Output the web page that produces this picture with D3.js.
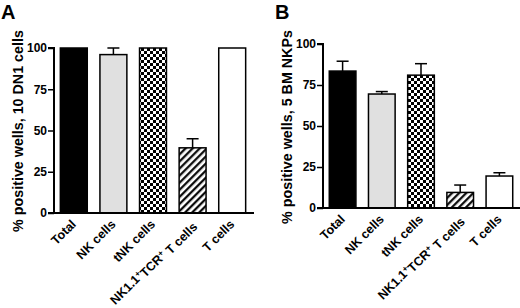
<!DOCTYPE html>
<html><head><meta charset="utf-8">
<script src="https://cdn.jsdelivr.net/npm/d3@7"></script>
<style>body{margin:0;background:#fff}svg{display:block}text{font-family:"Liberation Sans",Arial,sans-serif;font-weight:bold}</style>
</head><body><svg id="c" width="520" height="308"></svg>
<script>
const categories = ["Total","NK cells","tNK cells","NK1.1+TCR+ T cells","T cells"];
const valuesA = [100, 96, 100, 39.5, 100];
const errorsA = [0, 4, 0, 5.5, 0];
const valuesB = [83.5, 69.5, 81, 9.5, 19.5];
const errorsB = [6, 1.5, 7, 4.5, 2];
const yTicks = [0, 25, 50, 75, 100];
const fills = ["#000", "#e0e0e0", "url(#checker)", "url(#hatch)", "#fff"];

const svg = d3.select("#c");
const defs = svg.append("defs");
const ck = defs.append("pattern").attr("id","checker").attr("patternUnits","userSpaceOnUse").attr("width",6).attr("height",6);
ck.append("rect").attr("width",6).attr("height",6).attr("fill","#000");
ck.append("rect").attr("width",3).attr("height",3).attr("fill","#fff");
ck.append("rect").attr("x",3).attr("y",3).attr("width",3).attr("height",3).attr("fill","#fff");
const ht = defs.append("pattern").attr("id","hatch").attr("patternUnits","userSpaceOnUse").attr("width",5).attr("height",5).attr("patternTransform","rotate(45)");
ht.append("rect").attr("width",5).attr("height",5).attr("fill","#fff");
ht.append("line").attr("x1",1.2).attr("x2",1.2).attr("y1",0).attr("y2",5).attr("stroke","#000").attr("stroke-width",2.2);

function panel(opt){
  const g = svg.append("g");
  const x = d3.scaleBand().domain(categories).range([opt.x0, opt.x1]).paddingInner(0.32).paddingOuter(0.16);
  const y = d3.scaleLinear().domain([0,100]).range([opt.y0, opt.y1]);
  g.selectAll("rect.bar").data(categories).join("rect").attr("class","bar")
    .attr("x", d=>x(d)).attr("width", x.bandwidth())
    .attr("y", (d,i)=>y(opt.values[i])).attr("height",(d,i)=>y(0)-y(opt.values[i]))
    .attr("fill",(d,i)=>fills[i]).attr("stroke","#000").attr("stroke-width",1.5);
  categories.forEach((d,i)=>{
    if(opt.errors[i] > 0){
      const cx = x(d) + x.bandwidth()/2;
      const top = y(opt.values[i]+opt.errors[i]);
      g.append("line").attr("x1",cx).attr("x2",cx).attr("y1",y(opt.values[i])).attr("y2",top).attr("stroke","#000").attr("stroke-width",1.5);
      g.append("line").attr("x1",cx-6).attr("x2",cx+6).attr("y1",top).attr("y2",top).attr("stroke","#000").attr("stroke-width",1.5);
    }
  });
  const ya = g.append("g").attr("transform",`translate(${opt.x0},0)`).call(d3.axisLeft(y).tickValues(yTicks).tickSize(6).tickPadding(1));
  ya.select(".domain").attr("stroke-width",2).attr("d",`M-6,${y(100)}H0V${y(0)}`);
  ya.selectAll(".tick line").attr("stroke-width",1.5);
  ya.selectAll(".tick text").attr("font-size",12).attr("font-family","Liberation Sans, Arial, sans-serif").attr("font-weight","bold").attr("fill","#000");
  g.append("line").attr("x1",opt.x0-6).attr("x2",opt.x1+2).attr("y1",y(0)).attr("y2",y(0)).attr("stroke","#000").attr("stroke-width",2);
  categories.forEach(d=>{
    const cx = x(d) + x.bandwidth()/2;
    const t = g.append("text").attr("transform",`translate(${cx+3},${y(0)+12}) rotate(-45)`).attr("text-anchor","end").attr("font-size",12.5);
    if(d === "NK1.1+TCR+ T cells"){
      t.append("tspan").text("NK1.1");
      t.append("tspan").text("+").attr("font-size",8.5).attr("dy","-0.45em");
      t.append("tspan").text("TCR").attr("dy","0.45em");
      t.append("tspan").text("+").attr("font-size",8.5).attr("dy","-0.45em");
      t.append("tspan").text(" T cells").attr("dy","0.45em");
    } else t.text(d);
  });
  g.append("text").attr("transform",`translate(${opt.tx},${opt.ty}) rotate(-90)`).attr("text-anchor","middle").attr("font-size",14.3).text(opt.title);
  g.append("text").attr("x",opt.lx).attr("y",19).attr("font-size",20).text(opt.letter);
}

panel({x0:54, x1:252, y0:213, y1:48, values:valuesA, errors:errorsA, title:"% positive wells, 10 DN1 cells", tx:23, ty:131, lx:1, letter:"A"});
panel({x0:323, x1:519, y0:208, y1:44, values:valuesB, errors:errorsB, title:"% positive wells, 5 BM NKPs", tx:292, ty:127, lx:275, letter:"B"});
</script></body></html>
